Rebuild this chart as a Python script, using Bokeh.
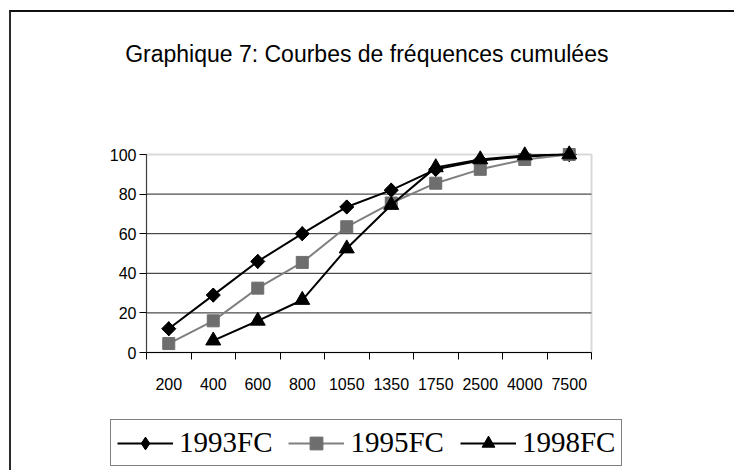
import math
from bokeh.plotting import figure
from bokeh.models import FixedTicker, Legend, LegendItem, Range1d, BoxAnnotation, Label
from bokeh.embed import file_html
from bokeh.resources import INLINE

categories = ["200", "400", "600", "800", "1050", "1350", "1750", "2500", "4000", "7500"]
fc1993 = [12, 29, 46, 60, 73.5, 82, 92.5, 97, 99, 100]
fc1995 = [4.5, 16, 32.5, 45.5, 63.5, 75.5, 85.5, 92.5, 97.5, 100]
fc1998 = [float("nan"), 6, 16, 26.5, 52.5, 74.5, 93.5, 97.5, 99.5, 100]
y_ticks = [0, 20, 40, 60, 80, 100]
series_names = ["1993FC", "1995FC", "1998FC"]
title_text = "Graphique 7: Courbes de fréquences cumulées"

xs = list(range(1, len(categories) + 1))
x_lo, x_hi = 0.5, len(categories) + 0.5
y_lo, y_hi = y_ticks[0], y_ticks[-1]

p = figure(width=725, height=460,
           x_range=Range1d(-1.1854, 13.5337), y_range=Range1d(-60.606, 166.667),
           output_backend="svg", toolbar_location=None,
           x_axis_location="above", y_axis_location="left",
           min_border_left=60, min_border_right=10, min_border_top=10,
           min_border_bottom=0)
p.styles = {"border-left": "2px solid #2a2a2a", "border-top": "2px solid #111111",
            "margin-left": "9px", "margin-top": "10px"}
p.outline_line_color = None
p.xgrid.visible = False
p.ygrid.visible = False

# plot-area frame
p.add_layout(BoxAnnotation(left=x_lo, right=x_hi, bottom=y_lo, top=y_hi,
                           fill_color=None, line_color="#808080", line_width=2,
                           level="underlay"))
# horizontal grid lines
grid_y = [t for t in y_ticks if y_lo < t < y_hi]
p.segment(x0=[x_lo] * len(grid_y), x1=[x_hi] * len(grid_y), y0=grid_y, y1=grid_y,
          line_color="#202020", line_width=1, level="underlay")

# x axis drawn at y = 0, labels under it, ticks at category boundaries
p.xaxis.fixed_location = y_lo
p.xaxis.bounds = (x_lo, x_hi)
p.xaxis.ticker = FixedTicker(ticks=xs, minor_ticks=[x - 0.5 for x in xs] + [x_hi])
p.xaxis.major_label_overrides = {x: c for x, c in zip(xs, categories)}
p.xaxis.major_tick_line_color = None
p.xaxis.major_tick_out = 0
p.xaxis.major_tick_in = 0
p.xaxis.minor_tick_out = 0
p.xaxis.minor_tick_in = 7
p.xaxis.minor_tick_line_color = "black"
p.xaxis.major_label_standoff = -37
p.xaxis.major_label_text_font = "Liberation Sans"
p.xaxis.major_label_text_font_size = "16px"
p.xaxis.major_label_text_color = "black"
p.xaxis.axis_line_color = "black"

p.yaxis.fixed_location = x_lo
p.yaxis.bounds = (y_lo, y_hi)
p.yaxis.ticker = FixedTicker(ticks=y_ticks, minor_ticks=[])
p.yaxis.major_tick_out = 7
p.yaxis.major_tick_in = 0
p.yaxis.major_tick_line_color = "black"
p.yaxis.major_label_standoff = 3
p.yaxis.major_label_text_font = "Liberation Sans"
p.yaxis.major_label_text_font_size = "16px"
p.yaxis.major_label_text_color = "black"
p.yaxis.axis_line_color = "#404040"

p.add_layout(Label(x=5.45, y=151, text=title_text, text_align="center",
                   text_baseline="middle", text_font="Liberation Sans",
                   text_font_size="23px", text_color="black"))

l1 = p.line(xs, fc1993, line_color="black", line_width=2)
d1 = p.scatter(xs, fc1993, marker="diamond", size=14, fill_color="black", line_color="black")
m1 = p.scatter(xs, fc1993, marker="square", angle=math.pi / 4, size=10,
               fill_color="black", line_color="black")
l2 = p.line(xs, fc1995, line_color="#808080", line_width=2)
m2 = p.scatter(xs, fc1995, marker="square", size=12, fill_color="#6e6e6e", line_color="#6e6e6e")
l3 = p.line(xs, fc1998, line_color="black", line_width=2)
m3 = p.scatter(xs, fc1998, marker="triangle", size=15, fill_color="black", line_color="black")

legend = Legend(items=[LegendItem(label=series_names[0], renderers=[l1, d1]),
                       LegendItem(label=series_names[1], renderers=[l2, m2]),
                       LegendItem(label=series_names[2], renderers=[l3, m3])],
                orientation="horizontal", location=(39, 6))
legend.label_text_font = "Liberation Serif"
legend.label_text_font_size = "29px"
legend.label_text_color = "black"
legend.glyph_width = 56
legend.glyph_height = 32
legend.label_standoff = 6
legend.spacing = 16
legend.padding = 6
legend.margin = 0
legend.border_line_color = "black"
legend.border_line_width = 1
legend.background_fill_color = "white"
legend.background_fill_alpha = 1
p.add_layout(legend, "center")

open("out.html", "w").write(file_html(p, INLINE))
